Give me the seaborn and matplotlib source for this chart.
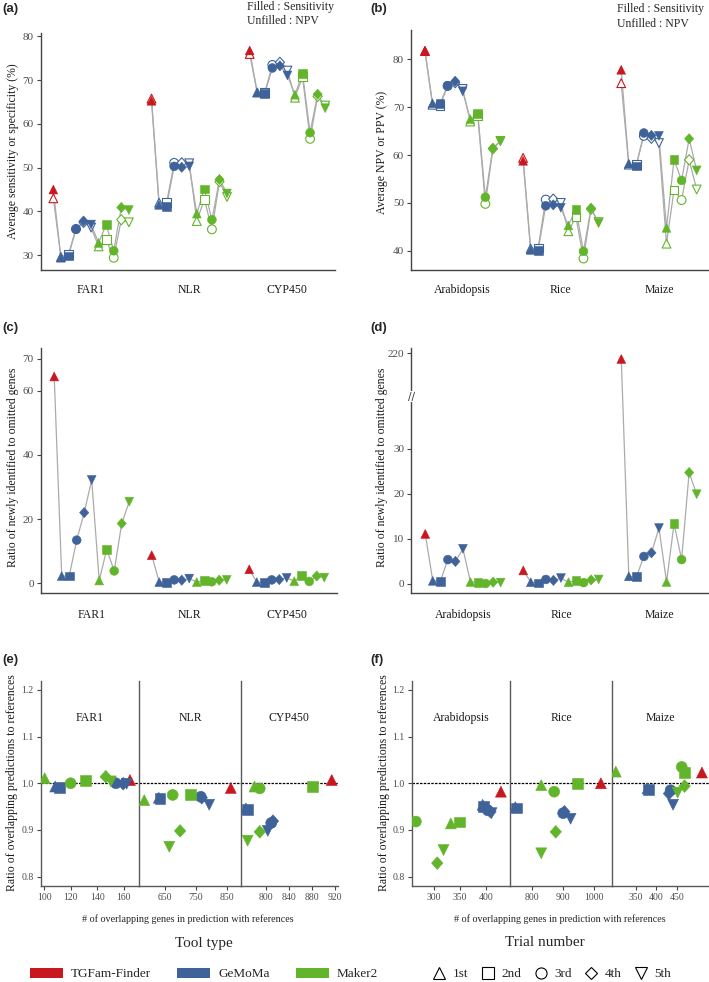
# ==========================================================
# GENE FAMILY PREDICTION BENCHMARK (6 PANELS)
# ==========================================================

import numpy as np
import pandas as pd
import matplotlib
matplotlib.use("Agg")
import matplotlib.pyplot as plt
import seaborn as sns
from matplotlib.patches import Patch
from matplotlib.lines import Line2D
from matplotlib.markers import MarkerStyle
from matplotlib.transforms import Affine2D

# ==========================================================
# DATA
# ==========================================================

tools = ["TGFam-Finder"] + ["GeMoMa"] * 5 + ["Maker2"] * 5
trials = ["1st"] + ["1st", "2nd", "3rd", "4th", "5th"] * 2

family_groups = ["FAR1", "NLR", "CYP450"]
species_groups = ["Arabidopsis", "Rice", "Maize"]

# (a) sensitivity (filled) / NPV (unfilled) per gene family
a_sens = [
    [45.0, 29.4, 29.8, 35.9, 37.8, 37.0, 32.8, 37.0, 31.0, 40.9, 40.3],
    [65.3, 41.5, 41.2, 50.3, 50.1, 50.3, 39.5, 45.1, 38.1, 47.3, 44.1],
    [76.8, 67.2, 67.0, 72.8, 73.3, 71.1, 66.7, 71.5, 58.0, 66.8, 63.6],
]
a_npv = [
    [43.0, 29.6, 30.2, 36.0, 37.5, 36.3, 32.0, 33.5, 29.4, 38.1, 37.5],
    [65.8, 42.0, 42.0, 51.1, 51.1, 51.0, 37.8, 42.8, 35.9, 46.8, 43.3],
    [76.0, 67.2, 67.2, 73.5, 74.1, 72.2, 66.0, 70.8, 56.6, 66.3, 64.2],
]

# (b) sensitivity (filled) / NPV (unfilled) per species
b_sens = [
    [81.8, 70.8, 70.7, 74.5, 75.4, 73.3, 67.5, 68.6, 51.2, 61.4, 63.0],
    [58.8, 40.2, 40.1, 49.4, 49.6, 49.0, 45.3, 48.7, 39.9, 48.9, 45.8],
    [77.8, 58.2, 57.7, 64.6, 64.1, 64.0, 44.8, 59.0, 54.7, 63.4, 56.8],
]
b_npv = [
    [81.7, 70.5, 70.4, 74.4, 75.1, 73.8, 67.0, 68.2, 49.8, 61.3, 62.9],
    [59.4, 40.5, 40.6, 50.7, 50.8, 50.0, 44.1, 47.1, 38.4, 48.7, 46.0],
    [75.0, 58.0, 58.0, 64.0, 63.5, 62.5, 41.5, 52.7, 50.6, 59.0, 52.8],
]

# (c), (d) ratio of newly identified to omitted genes
c_ratio = [
    [64.5, 2.2, 2.2, 13.4, 22.0, 32.2, 0.8, 10.5, 3.8, 18.6, 25.4],
    [8.7, 0.3, 0.3, 1.0, 0.9, 1.4, 0.3, 0.7, 0.4, 0.9, 1.0],
    [4.3, 0.3, 0.2, 1.0, 1.1, 1.6, 0.6, 2.3, 0.5, 2.2, 1.7],
]
d_ratio = [
    [11.1, 0.7, 0.6, 5.4, 5.0, 7.8, 0.45, 0.4, 0.1, 0.4, 0.3],
    [3.0, 0.4, 0.2, 1.0, 0.8, 1.3, 0.4, 0.7, 0.3, 0.9, 1.0],
    [218.5, 1.7, 1.6, 6.1, 6.9, 12.4, 0.45, 13.4, 5.4, 24.7, 19.9],
]

# (e), (f) overlapping genes vs ratio of overlapping predictions
e_genes = [
    [164.6, 108.4, 111.9, 154.0, 159.5, 162.1, 100.5, 130.9, 120.0, 146.4, 150.2],
    [863, 630, 634, 766, 769, 793, 583, 734, 675, 699, 664],
    [914, 765, 767, 809, 812, 803, 780, 881, 789, 789, 768],
]
e_ratio = [
    [1.007, 0.993, 0.991, 1.000, 0.999, 0.999, 1.011, 1.006, 1.000, 1.014, 1.004],
    [0.990, 0.969, 0.967, 0.971, 0.969, 0.954, 0.964, 0.976, 0.975, 0.898, 0.864],
    [1.007, 0.946, 0.943, 0.915, 0.919, 0.898, 0.993, 0.993, 0.989, 0.896, 0.877],
]
f_genes = [
    [429, 394, 396, 404, 409, 411, 333, 350, 266, 307, 319],
    [1022, 745, 748, 900, 904, 924, 829, 946, 871, 876, 829],
    [511, 379, 381, 435, 431, 441, 302, 468, 462, 469, 452],
]
f_ratio = [
    [0.982, 0.954, 0.951, 0.942, 0.939, 0.936, 0.914, 0.917, 0.918, 0.829, 0.857],
    [1.000, 0.949, 0.947, 0.936, 0.939, 0.924, 0.996, 0.999, 0.982, 0.896, 0.850],
    [1.023, 0.989, 0.987, 0.985, 0.978, 0.954, 1.025, 1.023, 1.035, 0.994, 0.980],
]

e_xticks = [[100, 120, 140, 160], [650, 750, 850], [800, 840, 880, 920]]
f_xticks = [[300, 350, 400], [800, 900, 1000], [350, 400, 450]]
e_xlims = [(97.5, 171.6), (567, 895), (756, 924)]
f_xlims = [(258, 447), (729, 1057), (292, 527)]

# ==========================================================
# STYLE
# ==========================================================

sns.set_theme(style="white")
plt.rcParams["font.family"] = ["Liberation Serif", "DejaVu Serif"]

palette = {"TGFam-Finder": "#C8171E", "GeMoMa": "#3F6399", "Maker2": "#62B52B"}
diamond = MarkerStyle("D", transform=Affine2D().scale(0.74, 0.82))
markers = {"1st": "^", "2nd": "s", "3rd": "o", "4th": diamond, "5th": "v"}
SPINE = "#444444"
TICKTXT = "#4D4D4D"
LINE = "#ABABAB"

W, H = 709, 982
fig = plt.figure(figsize=(W / 100, H / 100), dpi=100)


def box(l, t, r, b):
    return [l / W, 1 - b / H, (r - l) / W, (b - t) / H]


def ftxt(x, y, s, **kw):
    fig.text(x / W, 1 - y / H, s, **kw)


def make_frame(groups, cols):
    rows = []
    for g, name in enumerate(groups):
        for j in range(11):
            row = {"group": name, "pos": g * 13 + j, "tool": tools[j], "trial": trials[j]}
            for key, vals in cols.items():
                row[key] = vals[g][j]
            rows.append(row)
    return pd.DataFrame(rows)


def draw_lines(ax, df, col):
    sns.lineplot(data=df, x="pos", y=col, units="group", estimator=None, sort=False,
                 color=LINE, lw=0.9, ax=ax, zorder=1)


def draw_filled(ax, df, col, x="pos", s=40):
    sns.scatterplot(data=df, x=x, y=col, hue="tool", palette=palette, style="trial",
                    markers=markers, s=s, edgecolor="face", linewidth=0.4,
                    legend=False, ax=ax, zorder=4)


def draw_open(ax, df, col, s=40):
    for tool, sub in df.groupby("tool"):
        sns.scatterplot(data=sub, x="pos", y=col, style="trial", markers=markers, s=s,
                        color=palette[tool], facecolor="white", edgecolor=palette[tool],
                        linewidth=0.8, legend=False, ax=ax, zorder=3)


def style_axes(ax, groups, pad):
    sns.despine(ax=ax)
    for sp in ["left", "bottom"]:
        ax.spines[sp].set_color(SPINE)
        ax.spines[sp].set_linewidth(1.0)
    ax.tick_params(axis="y", left=True, length=3, width=0.8, color=SPINE,
                   labelsize=8, labelcolor=TICKTXT, pad=2)
    ax.set_xticks([g * 13 + 5 for g in range(3)])
    ax.set_xticklabels(groups, fontsize=8.5, color="#1A1A1A")
    ax.tick_params(axis="x", bottom=False, length=0, pad=pad)
    ax.set_xlabel("")
    ax.set_ylabel("")
    ax.grid(False)


# ==========================================================
# (a) AND (b): SENSITIVITY / NPV
# ==========================================================

df_a = make_frame(family_groups, {"sens": a_sens, "npv": a_npv})
ax_a = fig.add_axes(box(40.5, 33, 335, 270))
draw_lines(ax_a, df_a, "npv")
draw_lines(ax_a, df_a, "sens")
draw_open(ax_a, df_a, "npv")
draw_filled(ax_a, df_a, "sens")
style_axes(ax_a, family_groups, 10)
ax_a.set_xlim(-1.7, 37.3)
ax_a.set_ylim(26.6, 80.8)
ax_a.set_yticks([30, 40, 50, 60, 70, 80])

df_b = make_frame(species_groups, {"sens": b_sens, "npv": b_npv})
ax_b = fig.add_axes(box(411, 30, 708, 270))
draw_lines(ax_b, df_b, "npv")
draw_lines(ax_b, df_b, "sens")
draw_open(ax_b, df_b, "npv")
draw_filled(ax_b, df_b, "sens")
style_axes(ax_b, species_groups, 10)
ax_b.set_xlim(-1.85, 37.5)
ax_b.set_ylim(36.0, 86.1)
ax_b.set_yticks([40, 50, 60, 70, 80])

# ==========================================================
# (c) AND (d): NEWLY IDENTIFIED / OMITTED
# ==========================================================

df_c = make_frame(family_groups, {"ratio": c_ratio})
ax_c = fig.add_axes(box(40.7, 348, 337, 593))
draw_lines(ax_c, df_c, "ratio")
draw_filled(ax_c, df_c, "ratio")
style_axes(ax_c, family_groups, 11.5)
ax_c.set_xlim(-1.8, 37.7)
ax_c.set_ylim(-3.1, 73.4)
ax_c.set_yticks([0, 20, 40, 60, 70])

# broken axis for (d): lower part 0-41.5, upper part around 220
brk_x = [-50, 41.5, 209.0, 400]
brk_f = [-50, 41.5, 41.6, 41.6 + 191 * 0.87]


def fwd(v):
    return np.interp(v, brk_x, brk_f)


def inv(v):
    return np.interp(v, brk_f, brk_x)


df_d = make_frame(species_groups, {"ratio": d_ratio})
ax_d = fig.add_axes(box(411.3, 348, 708, 593))
ax_d.set_yscale("function", functions=(fwd, inv))
draw_lines(ax_d, df_d, "ratio")
draw_filled(ax_d, df_d, "ratio")
style_axes(ax_d, species_groups, 11.5)
ax_d.set_xlim(-1.85, 37.5)
ax_d.set_ylim(-2.0, 221.3)
ax_d.set_yticks([0, 10, 20, 30, 220])
ax_d.set_yticklabels(["0", "10", "20", "30", "220"])
ax_d.yaxis.set_minor_locator(matplotlib.ticker.NullLocator())
ax_d.text(0, 125, "//", transform=ax_d.get_yaxis_transform(), ha="center", va="center",
          fontsize=7.5, color="#333333", family="DejaVu Sans",
          bbox=dict(facecolor="white", edgecolor="none", pad=0.2))

# ==========================================================
# (e) AND (f): FACETED SCATTER
# ==========================================================


def facet_panel(edges, groups, xs, ys, xlims, xticks):
    for k, name in enumerate(groups):
        ax = fig.add_axes(box(edges[k], 681, edges[k + 1], 886))
        sub = pd.DataFrame({"x": xs[k], "y": ys[k], "tool": tools, "trial": trials})
        ax.axhline(1.0, color="black", lw=0.9, ls=(0, (2, 1)), zorder=1)
        draw_filled(ax, sub, "y", x="x", s=62)
        ax.set_xlim(*xlims[k])
        ax.set_ylim(0.78, 1.219)
        ax.set_xticks(xticks[k])
        ax.set_yticks([0.8, 0.9, 1.0, 1.1, 1.2])
        ax.set_yticklabels(["0.8", "0.9", "1.0", "1.1", "1.2"])
        ax.text(np.mean(xlims[k]), 1.14, name, ha="center", va="center", fontsize=8.5,
                color="#1A1A1A")
        sns.despine(ax=ax)
        for sp in ["left", "bottom"]:
            ax.spines[sp].set_color("#5A5A5A")
            ax.spines[sp].set_linewidth(1.0)
        ax.tick_params(axis="x", bottom=True, length=3, width=0.8, color=SPINE,
                       labelsize=7, labelcolor=TICKTXT, pad=2)
        ax.tick_params(axis="y", left=(k == 0), labelleft=(k == 0), length=3, width=0.8,
                       color=SPINE, labelsize=7, labelcolor=TICKTXT, pad=2)
        ax.set_xlabel("")
        ax.set_ylabel("")
        ax.grid(False)


facet_panel([40.7, 139.3, 240.7, 337.5], family_groups, e_genes, e_ratio, e_xlims, e_xticks)
facet_panel([411.7, 510.3, 611.7, 708.5], species_groups, f_genes, f_ratio, f_xlims, f_xticks)

# ==========================================================
# LABELS AND ANNOTATIONS
# ==========================================================

for lab, x, y in [("(a)", 2, 9), ("(b)", 370, 9), ("(c)", 2, 328),
                  ("(d)", 370, 328), ("(e)", 2, 660), ("(f)", 370, 660)]:
    ftxt(x, y, lab, fontsize=9.5, fontweight="bold", family="Liberation Sans",
         ha="left", va="center")

for x0 in [247, 617]:
    ftxt(x0, 7 if x0 < 400 else 9, "Filled : Sensitivity", fontsize=8.5, ha="left", va="center")
    ftxt(x0, 21 if x0 < 400 else 24, "Unfilled : NPV", fontsize=8.5, ha="left", va="center")

ylabel_kw = dict(fontsize=8.5, rotation=90, ha="center", va="center", color="#1A1A1A")
ftxt(13, 151, "Average sensitivity or specificity (%)", **ylabel_kw)
ftxt(382, 152, "Average NPV or PPV (%)", **ylabel_kw)
ftxt(13, 467, "Ratio of newly identified to omitted genes", **ylabel_kw)
ftxt(382, 467, "Ratio of newly identified to omitted genes", **ylabel_kw)
ftxt(12, 783, "Ratio of overlapping predictions to references", **ylabel_kw)
ftxt(384, 783, "Ratio of overlapping predictions to references", **ylabel_kw)

ftxt(188, 919, "# of overlapping genes in prediction with references", fontsize=7.3,
     ha="center", va="center")
ftxt(560, 919, "# of overlapping genes in prediction with references", fontsize=7.3,
     ha="center", va="center")

# ==========================================================
# LEGENDS
# ==========================================================

ftxt(204, 943, "Tool type", fontsize=11, ha="center", va="center")
ftxt(545, 943, "Trial number", fontsize=11, ha="center", va="center")

tool_handles = [Patch(facecolor=palette[t], edgecolor="none", label=t) for t in palette]
fig.legend(handles=tool_handles, loc="center", bbox_to_anchor=(204 / W, 1 - 974 / H),
           ncol=3, frameon=False, fontsize=9.5, handlelength=2.5, handleheight=0.8,
           handletextpad=0.6, columnspacing=2.0, borderpad=0)

trial_handles = [Line2D([], [], ls="none", marker=markers[t], mfc="none", mec="black",
                        mew=0.8, ms=8, label=t) for t in markers]
fig.legend(handles=trial_handles, loc="center", bbox_to_anchor=(552 / W, 1 - 974 / H),
           ncol=5, frameon=False, fontsize=9.5, handlelength=1.0, handletextpad=0.5,
           columnspacing=1.0, borderpad=0)

fig.savefig("out.png", dpi=100)
